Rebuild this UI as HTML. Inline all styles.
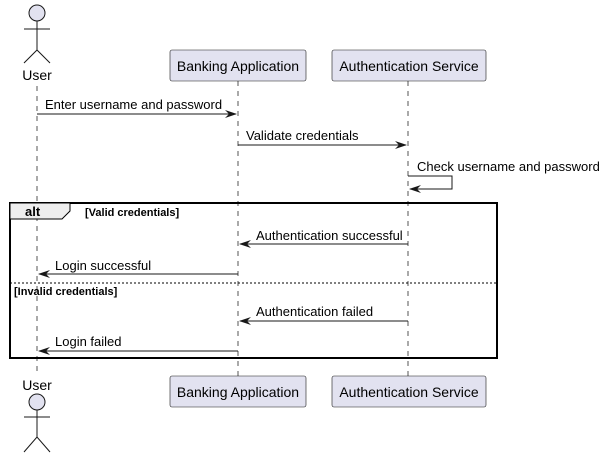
<!DOCTYPE html>
<html><head><style>body{margin:0;background:#fff}svg{display:block}</style></head><body>
<svg width="605" height="457" xmlns="http://www.w3.org/2000/svg" font-family="Liberation Sans, sans-serif">
<g stroke="#555" stroke-dasharray="5,5" stroke-width="1">
<line x1="37" y1="86" x2="37" y2="376"/>
<line x1="238" y1="81" x2="238" y2="376"/>
<line x1="408" y1="81" x2="408" y2="376"/>
</g>
<!-- actors -->
<g stroke="#181818" stroke-width="1" fill="none">
<circle cx="37" cy="13" r="8" fill="#E2E2F0"/>
<line x1="37" y1="21" x2="37" y2="50"/><line x1="24" y1="29" x2="50" y2="29"/>
<polyline points="24,63 37,50 50,63"/>
<circle cx="37" cy="402" r="8" fill="#E2E2F0"/>
<line x1="37" y1="410" x2="37" y2="437"/><line x1="24" y1="417" x2="50" y2="417"/>
<polyline points="24,452 37,437 50,452"/>
</g>
<g font-size="14" fill="#000">
<text x="37" y="80" text-anchor="middle">User</text>
<text x="37" y="390" text-anchor="middle">User</text>
</g>
<g fill="#E2E2F0" stroke="#181818" stroke-width="0.6">
<rect x="170" y="50" width="136" height="31" rx="2"/>
<rect x="332" y="50" width="154" height="31" rx="2"/>
<rect x="170" y="376" width="136" height="31" rx="2"/>
<rect x="332" y="376" width="154" height="31" rx="2"/>
</g>
<g font-size="14" text-anchor="middle">
<text x="238" y="71">Banking Application</text>
<text x="409" y="71">Authentication Service</text>
<text x="238" y="397">Banking Application</text>
<text x="409" y="397">Authentication Service</text>
</g>
<!-- frame -->
<rect x="10" y="203" width="487" height="155" fill="none" stroke="#000" stroke-width="2"/>
<path d="M10,203 H70 V211 L62,219 H10 Z" fill="#EEEEEE" stroke="#000" stroke-width="1"/>
<text x="25" y="216" font-size="13" font-weight="bold">alt</text>
<text x="85" y="216" font-size="11" font-weight="bold">[Valid credentials]</text>
<line x1="10" y1="283" x2="497" y2="283" stroke="#000" stroke-dasharray="2,2"/>
<text x="14" y="295" font-size="11" font-weight="bold">[Invalid credentials]</text>
<!-- messages -->
<g stroke="#181818" stroke-width="1" fill="none">
<line x1="37" y1="114" x2="236" y2="114"/>
<line x1="238" y1="145" x2="406" y2="145"/>
<polyline points="408,176 452,176 452,189 410,189"/>
<line x1="240" y1="244" x2="408" y2="244"/>
<line x1="39" y1="274" x2="238" y2="274"/>
<line x1="240" y1="321" x2="408" y2="321"/>
<line x1="39" y1="351" x2="238" y2="351"/>
</g>
<g fill="#181818">
<path d="M237,114 l-12,-4 l4,4 l-4,4z"/>
<path d="M407,145 l-12,-4 l4,4 l-4,4z"/>
<path d="M409,189 l12,-4 l-4,4 l4,4z"/>
<path d="M239,244 l12,-4 l-4,4 l4,4z"/>
<path d="M38,274 l12,-4 l-4,4 l4,4z"/>
<path d="M239,321 l12,-4 l-4,4 l4,4z"/>
<path d="M38,351 l12,-4 l-4,4 l4,4z"/>
</g>
<g font-size="13">
<text x="45" y="109">Enter username and password</text>
<text x="246" y="140">Validate credentials</text>
<text x="417" y="171">Check username and password</text>
<text x="256" y="240">Authentication successful</text>
<text x="55" y="270">Login successful</text>
<text x="256" y="316">Authentication failed</text>
<text x="55" y="346">Login failed</text>
</g>
</svg>
</body></html>
